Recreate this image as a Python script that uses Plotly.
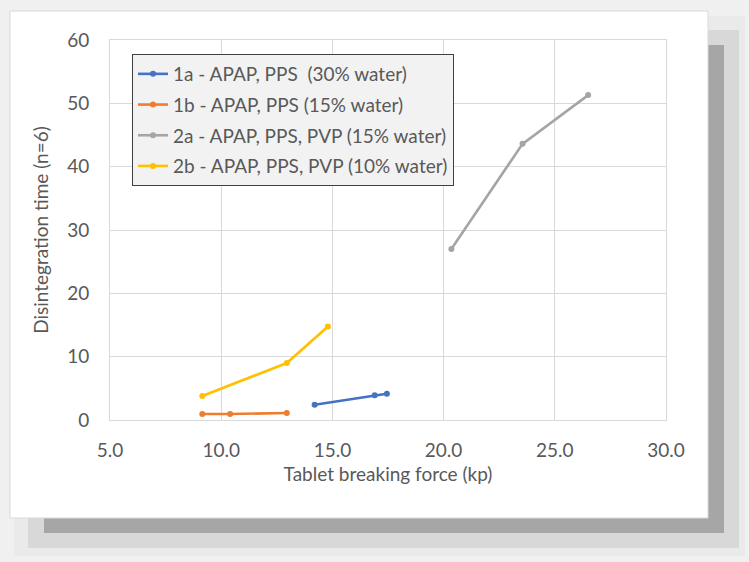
import plotly.graph_objects as go

# Data
names = [
    "1a - APAP, PPS  (30% water)",
    "1b - APAP, PPS (15% water)",
    "2a - APAP, PPS, PVP (15% water)",
    "2b - APAP, PPS, PVP (10% water)",
]
x_1a = [14.2, 16.9, 17.45]
y_1a = [2.4, 3.9, 4.15]
x_1b = [9.15, 10.4, 12.95]
y_1b = [0.95, 0.95, 1.1]
x_2a = [20.35, 23.55, 26.5]
y_2a = [27.0, 43.6, 51.3]
x_2b = [9.15, 12.95, 14.8]
y_2b = [3.8, 9.0, 14.75]
colors = ["#4472C4", "#ED7D31", "#A5A5A5", "#FFC000"]

xs = [x_1a, x_1b, x_2a, x_2b]
ys = [y_1a, y_1b, y_2a, y_2b]

W, H = 749, 562
L, R, T, B = 110, 83, 40, 142
PW, PH = W - L - R, H - T - B


def px(x):
    return (x - L) / PW


def py(y):
    return (H - B - y) / PH


FONT = "Lato, 'Open Sans', sans-serif"
FS = 19
fig = go.Figure()
for i in range(4):
    fig.add_trace(go.Scatter(
        x=xs[i], y=ys[i], name=names[i], mode="lines+markers",
        line=dict(color=colors[i], width=2.6),
        marker=dict(color=colors[i], size=6),
        legendgroup=f"g{i}",
    ))

shapes = [
    dict(type="rect", xref="paper", yref="paper", x0=px(28), x1=px(739), y0=py(30), y1=py(548),
         fillcolor="#CCCCCC", line=dict(width=0), layer="below"),
    dict(type="rect", xref="paper", yref="paper", x0=px(14), x1=px(745), y0=py(16), y1=py(556),
         fillcolor="#E4E4E4", line=dict(width=0), layer="below", opacity=0.5),
    dict(type="rect", xref="paper", yref="paper", x0=px(44), x1=px(724), y0=py(45), y1=py(533),
         fillcolor="#A6A6A6", line=dict(width=0), layer="below"),
    dict(type="rect", xref="paper", yref="paper", x0=px(10), x1=px(708), y0=py(11), y1=py(518),
         fillcolor="#FFFFFF", line=dict(color="#D9D9D9", width=1), layer="below"),
]

fig.update_layout(
    width=W, height=H,
    margin=dict(l=L, r=R, t=T, b=B),
    paper_bgcolor="#F0F0F0", plot_bgcolor="rgba(0,0,0,0)",
    font=dict(family=FONT, size=FS, color="#595959"),
    shapes=shapes,
    showlegend=True,
    legend=dict(
        x=px(132), y=py(54), xanchor="left", yanchor="top",
        bgcolor="#F2F2F2", bordercolor="#404040", borderwidth=1,
        font=dict(family=FONT, size=FS, color="#595959"),
        tracegroupgap=3, traceorder="grouped",
        itemwidth=30,
    ),
    xaxis=dict(
        range=[5, 30], dtick=5, tickformat=".1f",
        showgrid=True, gridcolor="#D9D9D9", gridwidth=1,
        zeroline=False, showline=True, linecolor="#D9D9D9", mirror=True,
        ticks="", ticklabelstandoff=13,
        title=dict(text="Tablet breaking force (kp)", standoff=7,
                   font=dict(family=FONT, size=FS, color="#595959")),
    ),
    yaxis=dict(
        range=[0, 60], dtick=10,
        showgrid=True, gridcolor="#D9D9D9", gridwidth=1,
        zeroline=False, showline=True, linecolor="#D9D9D9", mirror=True,
        ticks="", ticklabelstandoff=16,
        title=dict(text="Disintegration time (n=6)", standoff=13,
                   font=dict(family=FONT, size=FS, color="#595959")),
    ),
)

fig.write_html("out.html")
